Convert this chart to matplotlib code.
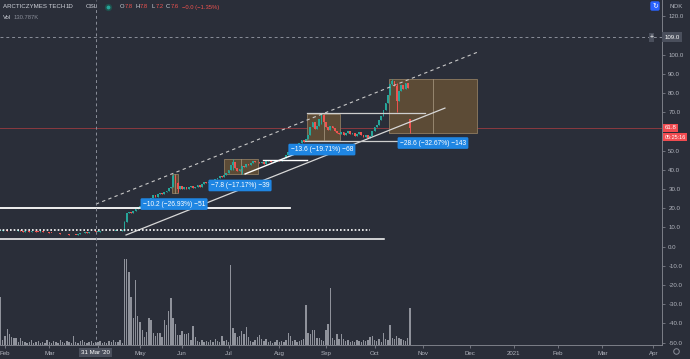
import matplotlib
matplotlib.use('Agg')
import matplotlib.pyplot as plt
import pandas as pd
from matplotlib.patches import Rectangle
from matplotlib.transforms import blended_transform_factory

plt.rcParams['font.family'] = ['Liberation Sans', 'DejaVu Sans']

BG = '#2a2e39'
TXT = '#b2b5be'
UP = '#26a69a'
DOWN = '#ef5350'

# Oslo exchange closed days (bars are trading days only)
holidays = ['2020-04-09', '2020-04-10', '2020-04-13', '2020-05-01', '2020-05-21', '2020-06-01',
            '2020-12-24', '2020-12-25', '2020-12-31', '2021-01-01',
            '2021-04-01', '2021-04-02', '2021-04-05']
calendar = pd.bdate_range('2020-01-30', '2021-04-30', freq='C', holidays=holidays)
dates = calendar[calendar <= '2020-10-23']

# daily closes, NOK
closes = [
    8.2, 8.4, 8.6, 8.3, 8.0, 8.1, 7.9, 8.2, 8.4, 8.1, 7.8, 7.9, 8.0, 7.7, 7.9, 8.1, 7.8, 7.6, 7.9, 7.7, 7.5, 7.4,
    7.2, 7.0, 6.9, 7.1, 6.8, 6.6, 6.4, 6.7, 6.3, 6.1, 5.9, 6.2, 6.0, 6.4, 6.8, 7.0, 7.3, 7.1, 7.5, 7.4, 7.7, 7.6,
    7.8, 8.0, 7.9, 8.1, 7.9, 8.0, 8.2, 8.1, 8.3, 8.0, 8.2, 8.4,
    12.6, 17.2, 18.0, 17.4, 18.6, 19.4, 20.6, 21.2,
    22.0, 23.5, 24.8, 24.0, 25.5, 26.8, 26.0, 27.2, 28.0, 27.5, 28.6, 29.0, 30.5, 31.0,
    36.5, 33.0, 30.0,
    31.5, 30.2, 31.0, 30.0, 30.8, 31.5, 30.6, 31.2, 32.0, 31.0, 32.5, 33.5,
    33.0, 33.8, 34.5, 34.0, 35.2, 35.8, 36.5, 36.0, 37.5, 38.5,
    40.0, 42.5, 44.0, 41.0, 39.5, 40.5, 42.0, 41.5, 43.0, 42.5, 43.5, 44.5, 43.8, 44.2, 43.5,
    44.0, 43.2, 44.5, 45.0, 44.2, 43.8, 44.6, 45.2, 44.8, 45.5, 46.0, 47.5, 49.0, 50.5,
    52.0, 53.5, 52.8, 54.0, 55.5, 54.5, 56.0,
    58.0, 62.5, 65.0, 61.0, 63.0, 66.5, 68.5, 65.0, 62.0, 60.5, 63.0, 61.5, 60.0, 59.0, 58.5,
    59.5, 58.0, 59.2, 60.0, 58.5, 59.0, 57.5, 58.8, 59.5, 58.0, 57.0, 58.2, 56.5, 57.5,
    60.0, 62.5, 63.5, 66.0, 68.0, 71.0, 74.5, 79.0,
    84.5, 86.0, 83.5, 76.0, 81.0, 84.0, 82.0, 85.0, 82.5, 61.8,
]
last_open = 66.4
# bars with visible wicks: index -> (high, low)
wicks = {56: (13.5, 8.3), 78: (38.0, 31.0), 80: (33.5, 28.5), 105: (45.4, 40.0), 109: (41.5, 37.6),
         138: (56.0, 55.4), 145: (69.0, 64.0), 177: (87.5, 84.0), 179: (85.0, 70.0), 185: (66.4, 58.9)}

# daily volume, thousands of shares
volume_k = [
    168, 18, 32, 56, 39, 28, 25, 25, 10, 25,
    14, 10, 7, 10, 18, 7, 10, 14, 7, 10, 7, 18,
    10, 7, 14, 10, 7, 18, 10, 7, 14, 10, 7, 32,
    10, 7, 14, 18, 10, 7, 10, 14, 7, 10,
    10, 14, 7, 10, 7, 14, 10, 18, 10, 10, 18, 7,
    302, 302, 256, 168, 95, 228, 102, 81, 53, 28,
    46, 95, 88, 42, 32, 42, 42, 28, 88, 70,
    119, 165, 95, 74, 35, 35, 49, 39, 39, 42,
    18, 67, 28, 14, 10, 18, 10, 14, 10, 18,
    10, 21, 14, 10, 32, 14, 18, 10, 284, 60,
    42, 28, 32, 49, 39, 63, 28, 14, 10, 18,
    28, 35, 21, 14, 21, 10, 14, 7, 10, 18,
    10, 14, 10, 18, 42, 32, 14, 18, 10, 14,
    18, 21, 140, 42, 39, 53, 53, 25, 25, 18,
    14, 53, 74, 200, 25, 18, 39, 21, 39, 21,
    14, 18, 10, 14, 10, 18, 14, 10, 18, 14,
    18, 28, 32, 18, 14, 21, 10, 42, 21, 18,
    70, 25, 21, 32, 25, 21, 18, 14, 25, 130.787,
]

x = list(range(len(dates)))
opens = [closes[0]] + closes[:-1]
opens[-1] = last_open
highs, lows, colors = [], [], []
for i, (o, c) in enumerate(zip(opens, closes)):
    hi, lo = wicks.get(i, (max(o, c), min(o, c)))
    highs.append(hi)
    lows.append(lo)
    colors.append(UP if c >= o else DOWN)
bodies = [max(abs(c - o), 0.3) for o, c in zip(opens, closes)]
bottoms = [min(o, c) for o, c in zip(opens, closes)]

fig = plt.figure(figsize=(6.9, 3.59), dpi=100, facecolor=BG)
rect = [0, 14 / 359, 662 / 690, 345 / 359]
xlim = (-0.26, 298.9)

# volume pane behind the price pane
vax = fig.add_axes(rect, label='volume', facecolor=BG)
vax.bar(x, volume_k, width=0.62, color='#8f929b', zorder=1)
vax.set_xlim(*xlim)
vax.set_ylim(0, 1218)
vax.axis('off')

ax = fig.add_axes(rect, label='price')
ax.patch.set_visible(False)
ax.set_xlim(*xlim)
ax.set_ylim(-51.3, 128.4)

ax.vlines(x, lows, highs, colors=colors, lw=0.7, zorder=4)
ax.bar(x, bodies, bottom=bottoms, width=0.8, color=colors, zorder=4)

# measuring boxes (date & price range)
def price_range(x0, x1, p_top, p_bot, xm, label, lx, ly):
    ax.add_patch(Rectangle((x0, p_bot), x1 - x0, p_top - p_bot, fc='#5c4b36', ec='#8f7c62',
                           lw=0.6, zorder=2))
    ax.plot([xm, xm], [p_bot, p_top], color='#a09078', lw=0.6, zorder=2.5)
    ax.text(lx, ly, label, ha='center', va='center', fontsize=4.8, color='white', zorder=7,
            bbox=dict(boxstyle='round,pad=0.35,rounding_size=0.2', fc='#1f86e3', ec='none'))

price_range(77.5, 80.2, 38.0, 27.8, 78.8, '\u221210.2 (\u221226.93%) \u221251', 78.4, 22.1)
price_range(101, 116.3, 45.4, 37.6, 108.5, '\u22127.8 (\u221217.17%) \u221239', 108.2, 31.8)
price_range(138.5, 153.4, 69.0, 55.4, 146, '\u221213.6 (\u221219.71%) \u221268', 145.2, 50.5)
price_range(175.5, 215.3, 87.5, 58.9, 195.4, '\u221228.6 (\u221232.67%) \u2212143', 195.4, 53.9)

# trend lines and levels
ax.plot([56.7, 200.8], [6.0, 72.1], color='#d8d8d8', lw=0.9, zorder=5)
ax.plot([43.1, 215.7], [22.1, 101.3], color='#c8c8c8', lw=0.8, ls=(0, (3, 3)), zorder=5)
ax.plot([110.5, 135.3], [37.8, 49.2], color='white', lw=1.0, zorder=5)
ax.plot([-1, 130.8], [20.0, 20.0], color='white', lw=1.3, zorder=5)
ax.plot([-1, 173.3], [3.9, 3.9], color='white', lw=1.1, zorder=5)
ax.plot([-1, 166.9], [8.6, 8.6], color='white', lw=1.2, ls=(0, (1, 1.2)), zorder=5)
ax.plot([118.6, 138.5], [45.1, 45.1], color='white', lw=1.0, zorder=5)
ax.plot([138.5, 191.8], [69.3, 69.3], color='#cfcfcf', lw=0.9, zorder=5)
ax.plot([137.6, 188.6], [54.9, 54.9], color='#cfcfcf', lw=0.9, zorder=5)

# last price line
ax.axhline(61.8, color='#8a3a40', lw=0.7, zorder=1.5)

# crosshair
cross_x = dates.get_loc(pd.Timestamp('2020-03-31'))
ax.axvline(cross_x, color='#8a8e99', lw=0.7, ls=(0, (3, 3)), zorder=6)
ax.axhline(109.0, color='#8a8e99', lw=0.7, ls=(0, (3, 3)), zorder=6)

# axes styling
for side in ['top', 'left']:
    ax.spines[side].set_visible(False)
ax.spines['right'].set_color('#7c7f88')
ax.spines['bottom'].set_color('#7c7f88')
ax.spines['right'].set_linewidth(0.7)
ax.spines['bottom'].set_linewidth(0.7)

ax.yaxis.tick_right()
yt = list(range(-50, 130, 10))
ax.set_yticks(yt)
# 60 and 110 are hidden behind the last-price and crosshair labels
ax.set_yticklabels(['' if v in (60, 110) else f'{v:.1f}' for v in yt])
ax.tick_params(axis='y', length=2.5, width=0.6, pad=2, labelsize=4.4, colors='#7c7f88', labelcolor=TXT)

cal = calendar.to_series()
firsts = cal.groupby([calendar.year, calendar.month]).first().iloc[1:]
tick_pos = [calendar.get_loc(d) for d in firsts]
# April 2020 sits under the crosshair date label
tick_lab = ['2021' if d.month == 1 else ('' if (d.year, d.month) == (2020, 4) else d.strftime('%b'))
            for d in firsts]
ax.set_xticks(tick_pos)
ax.set_xticklabels(tick_lab)
ax.tick_params(axis='x', length=2, width=0.6, pad=2, labelsize=4.4, colors='#7c7f88', labelcolor=TXT)

right = blended_transform_factory(ax.transAxes, ax.transData)
bottom = blended_transform_factory(ax.transData, ax.transAxes)

ax.text(1.004, 61.8, '61.8', transform=right, ha='left', va='center', fontsize=4.4, color='white',
        zorder=8, bbox=dict(boxstyle='square,pad=0.3', fc='#f04b50', ec='none'))
ax.text(1.004, 57.0, '05:25:16', transform=right, ha='left', va='center', fontsize=4.0, color='white',
        zorder=8, bbox=dict(boxstyle='square,pad=0.25', fc='#f04b50', ec='none'))
ax.text(1.004, 109.0, '109.0', transform=right, ha='left', va='center', fontsize=4.4, color='white',
        zorder=8, bbox=dict(boxstyle='square,pad=0.4', fc='#4a4f5c', ec='none'))
ax.text(0.984, 109.0, '+', transform=right, ha='center', va='center', fontsize=5.0, color='white',
        zorder=8, bbox=dict(boxstyle='square,pad=0.12', fc='#4a4f5c', ec='none'))
ax.text(cross_x, -0.022, "31 Mar '20", transform=bottom, ha='center', va='center', fontsize=4.4,
        color='white', zorder=8, bbox=dict(boxstyle='square,pad=0.35', fc='#4a4f5c', ec='none'))

# header
def px(xp, yp):
    return xp / 690, 1 - yp / 359

fig.text(*px(3, 7), 'ARCTICZYMES TECH', fontsize=4.4, color='#d1d4dc', va='center')
fig.text(*px(66, 7), '1D', fontsize=4.4, color='#d1d4dc', va='center')
fig.text(*px(86, 7), 'OSL', fontsize=4.4, color='#d1d4dc', va='center')
fig.lines.append(plt.Line2D([108 / 690], [1 - 7 / 359], transform=fig.transFigure, marker='o',
                            ms=4, mfc='#26a69a', mec='#1f4f4c', mew=1.2))
for xp, letter, val in [(120, 'O', '7.8'), (135, 'H', '7.8'), (151, 'L', '7.2'), (166, 'C', '7.6')]:
    fig.text(*px(xp, 7), letter, fontsize=4.2, color='#d1d4dc', va='center')
    fig.text(*px(xp + 4.5, 7), val, fontsize=4.2, color='#ef5350', va='center')
fig.text(*px(182, 7), '\u22120.0 (\u22121.35%)', fontsize=4.2, color='#ef5350', va='center')
fig.text(*px(3, 17.5), 'Vol', fontsize=4.2, color='#d1d4dc', va='center')
fig.text(*px(14, 17.5), '130.787K', fontsize=4.2, color='#8a8e99', va='center')

fig.text(*px(676, 6), 'NOK', fontsize=4.4, color=TXT, ha='center', va='center')
fig.text(*px(655, 6), '\u21bb', fontsize=5, color='white', ha='center', va='center',
         family='DejaVu Sans', bbox=dict(boxstyle='round,pad=0.25', fc='#2962ff', ec='none'))
fig.lines.append(plt.Line2D([676 / 690], [1 - 351 / 359], transform=fig.transFigure, marker='o',
                            ms=4, mfc='none', mec='#8a8e99', mew=0.7))

fig.savefig('out.png', dpi=100, facecolor=BG)
